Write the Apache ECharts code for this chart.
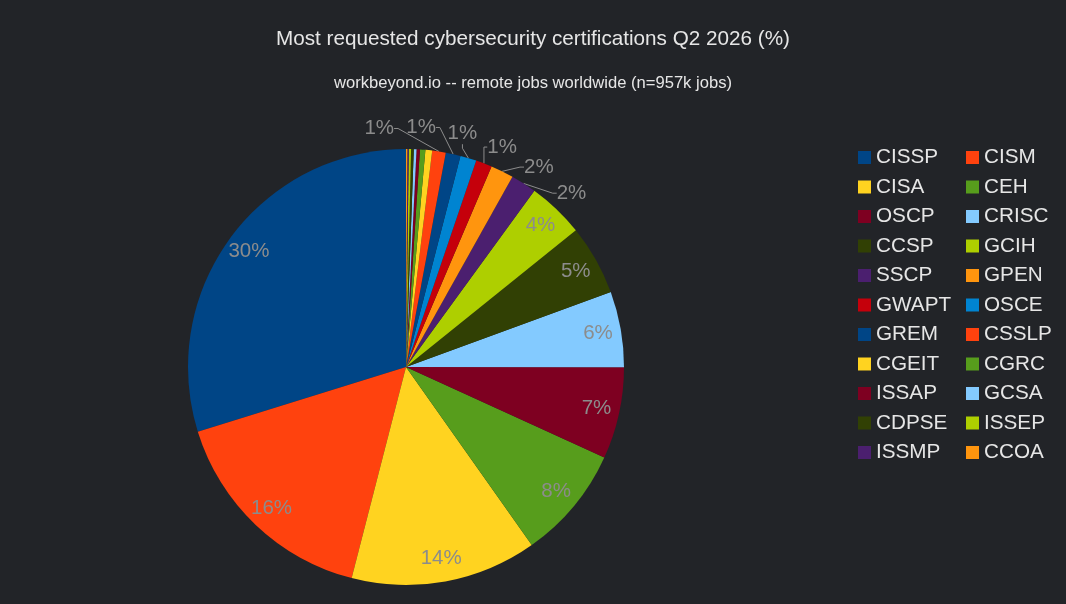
<!DOCTYPE html>
<html lang="en">
<head>
    <meta charset="UTF-8">
    <title>Cybersecurity certifications</title>
    <script src="https://cdn.jsdelivr.net/npm/echarts@6/dist/echarts.min.js"></script>
    <style>
        html, body { margin: 0; padding: 0; background: #222428; }
    </style>
</head>
<body>
    <div id="main" style="width: 1066px;height:604px;"></div>
    <script type="text/javascript">
        // data (share of postings, %)
        var certNames = ['CISSP', 'CISM', 'CISA', 'CEH', 'OSCP', 'CRISC', 'CCSP', 'GCIH', 'SSCP', 'GPEN',
            'GWAPT', 'OSCE', 'GREM', 'CSSLP', 'CGEIT', 'CGRC', 'ISSAP', 'GCSA', 'CDPSE', 'ISSEP', 'ISSMP', 'CCOA'];
        var certShares = [29.8, 16.2, 13.8, 8.4, 6.8, 5.6, 5.2, 4.2, 1.9, 1.7,
            1.2, 1.2, 1.1, 1.0, 0.5, 0.4, 0.25, 0.2, 0.2, 0.17, 0.1, 0.1];

        // LibreOffice style palette
        var palette = ['#004586', '#ff420e', '#ffd320', '#579d1c', '#7e0021', '#83caff',
            '#314004', '#aecf00', '#4b1f6f', '#ff950e', '#c5000b', '#0084d1'];

        var pieCenter = [406, 367];
        var pieRadius = 218;

        var myChart = echarts.init(document.getElementById('main'));

        var total = certShares.reduce(function (a, b) { return a + b; }, 0);

        var pieData = certNames.map(function (n, i) {
            return { name: n, value: certShares[i] };
        });

        // big slices: label inside, small ones: outside, tiny ones: none
        var outsideIdx = [];
        var labelData = certNames.map(function (n, i) {
            var v = certShares[i];
            var item = { name: n, value: v };
            if (v >= 3) {
                item.label = { show: true, position: 'inside' };
                item.labelLine = { show: false };
            } else if (v >= 0.95) {
                item.label = { show: true, position: 'outside' };
                item.labelLine = { show: true };
                outsideIdx.push(i);
            } else {
                item.label = { show: false };
                item.labelLine = { show: false };
            }
            return item;
        });

        // mid angle (deg, counterclockwise from 3 o'clock) of each slice, start at 12 o'clock
        var midAngles = [];
        var acc = 0;
        certShares.forEach(function (v) {
            midAngles.push(90 + (acc + v / 2) / total * 360);
            acc += v;
        });
        var outsideMean = outsideIdx.reduce(function (s, i) { return s + midAngles[i]; }, 0) / outsideIdx.length;

        // spread the small outside labels along an arc above the pie
        function spreadLabels(params) {
            var k = outsideIdx.indexOf(params.dataIndex);
            if (k < 0) return {};
            var a = (outsideMean + 1 + (k - (outsideIdx.length - 1) / 2) * 10) * Math.PI / 180;
            var r = pieRadius + 22;
            return {
                x: pieCenter[0] + r * Math.cos(a),
                y: pieCenter[1] - r * Math.sin(a),
                align: 'center',
                verticalAlign: 'middle'
            };
        }

        var leftNames = certNames.filter(function (n, i) { return i % 2 === 0; });
        var rightNames = certNames.filter(function (n, i) { return i % 2 === 1; });

        var legendBase = {
            orient: 'vertical',
            top: 142,
            itemWidth: 13,
            itemHeight: 13,
            itemGap: 8.5,
            icon: 'rect',
            textStyle: { color: '#e6e6e6', fontSize: 20.7, fontFamily: 'Liberation Sans' }
        };

        var option = {
            backgroundColor: '#222428',
            color: palette,
            animation: false,
            title: {
                text: 'Most requested cybersecurity certifications Q2 2026 (%)',
                subtext: 'workbeyond.io -- remote jobs worldwide (n=957k jobs)',
                left: 'center',
                top: 24,
                itemGap: 25,
                textStyle: { color: '#e6e6e6', fontSize: 20.7, fontWeight: 'normal', fontFamily: 'Liberation Sans' },
                subtextStyle: { color: '#e6e6e6', fontSize: 16.6, fontFamily: 'Liberation Sans' }
            },
            legend: [
                Object.assign({}, legendBase, { left: 853, data: leftNames }),
                Object.assign({}, legendBase, { left: 961, data: rightNames })
            ],
            series: [
                {
                    name: 'share',
                    type: 'pie',
                    center: pieCenter,
                    radius: [0, pieRadius],
                    startAngle: 90,
                    clockwise: false,
                    label: { show: false },
                    labelLine: { show: false },
                    emphasis: { disabled: true },
                    data: pieData
                },
                {
                    name: 'labels',
                    type: 'pie',
                    center: pieCenter,
                    radius: [166, pieRadius],
                    startAngle: 90,
                    clockwise: false,
                    silent: true,
                    legendHoverLink: false,
                    avoidLabelOverlap: false,
                    itemStyle: { color: 'rgba(0,0,0,0)' },
                    emphasis: { disabled: true },
                    label: {
                        color: '#8c8c8c',
                        fontSize: 20.5,
                        fontFamily: 'Liberation Sans',
                        formatter: function (p) { return Math.round(p.value) + '%'; }
                    },
                    labelLine: {
                        length: 10,
                        length2: 4,
                        lineStyle: { color: '#8c8c8c', width: 1 }
                    },
                    labelLayout: spreadLabels,
                    data: labelData
                }
            ]
        };

        myChart.setOption(option);
    </script>
</body>
</html>
